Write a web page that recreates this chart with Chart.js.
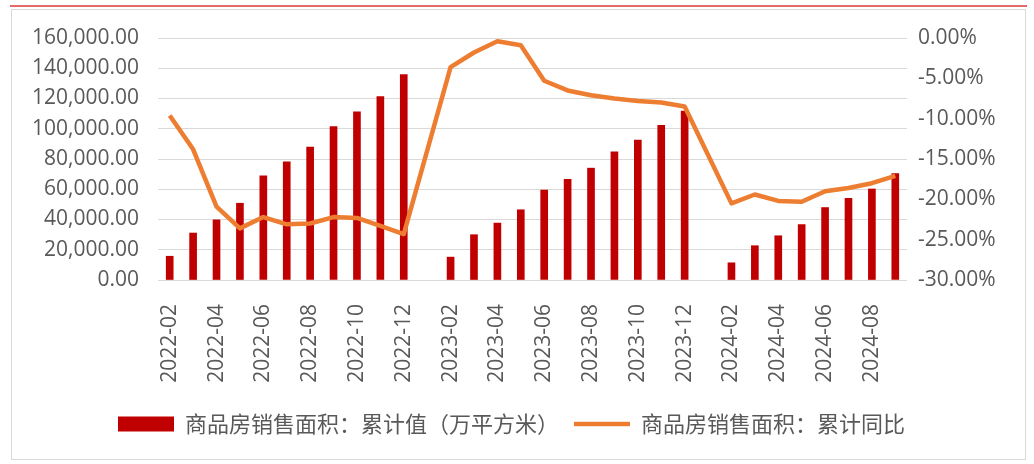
<!DOCTYPE html>
<html>
<head>
<meta charset="utf-8">
<script src="https://cdn.jsdelivr.net/npm/chart.js@4"></script>
<style>
	html, body { margin: 0; padding: 0; background: #ffffff; }
	body { width: 1034px; height: 464px; position: relative; overflow: hidden; }
	#topline { position: absolute; left: 10px; top: 5px; width: 1017px; height: 2px; background: #e46a6a; }
	#frame { position: absolute; left: 11px; top: 9px; width: 1013px; height: 449px; border: 1px solid #d9d9d9; }
	#salesChart { display: block; }
</style>
</head>
<body>
<div id="topline"></div>
<div id="frame">
	<canvas id="salesChart" width="1013" height="449"></canvas>
</div>
<script type="text/javascript">
	/*jshint esversion: 6 */
	var months = [
		"2022-02", "2022-03", "2022-04", "2022-05", "2022-06", "2022-07", "2022-08", "2022-09", "2022-10", "2022-11", "2022-12",
		"2023-01", "2023-02", "2023-03", "2023-04", "2023-05", "2023-06", "2023-07", "2023-08", "2023-09", "2023-10", "2023-11", "2023-12",
		"2024-01", "2024-02", "2024-03", "2024-04", "2024-05", "2024-06", "2024-07", "2024-08", "2024-09"
	];

	// cumulative sales area (10k m2), January has no release
	var salesArea = [
		15703, 31046, 39768, 50738, 68923, 78178, 87890, 101422, 111179, 121250, 135837,
		null, 15133, 29946, 37636, 46440, 59515, 66563, 73949, 84806, 92579, 102289, 111735,
		null, 11369, 22668, 29252, 36642, 47916, 54007, 60172, 70284
	];

	// cumulative year-on-year change (%)
	var salesGrowth = [
		-9.6, -13.8, -20.9, -23.6, -22.2, -23.1, -23.0, -22.2, -22.3, -23.3, -24.3,
		null, -3.6, -1.8, -0.4, -0.9, -5.3, -6.5, -7.1, -7.5, -7.8, -8.0, -8.5,
		null, -20.5, -19.4, -20.2, -20.3, -19.0, -18.6, -18.0, -17.1
	];

	var seriesNames = ["商品房销售面积：累计值（万平方米）", "商品房销售面积：累计同比"];

	var textColor = "#595959";
	var tickFont = { family: "'Open Sans', 'Noto Sans', sans-serif", size: 21 };

	var ctx = document.getElementById("salesChart").getContext("2d");
	var chart = new Chart(ctx, {
		type: "bar",
		data: {
			labels: months,
			datasets: [
				{
					type: "bar",
					label: seriesNames[0],
					data: salesArea,
					yAxisID: "y",
					backgroundColor: "#c00000",
					borderWidth: 0,
					barThickness: 7,
					order: 2
				},
				{
					type: "line",
					label: seriesNames[1],
					data: salesGrowth,
					yAxisID: "y1",
					borderColor: "#ed7d31",
					backgroundColor: "#ed7d31",
					borderWidth: 4.5,
					pointRadius: 0,
					tension: 0,
					spanGaps: true,
					borderJoinStyle: "round",
					order: 1
				}
			]
		},
		options: {
			responsive: false,
			animation: false,
			layout: { padding: { left: 0, right: 14, top: 28, bottom: 14 } },
			plugins: {
				tooltip: { enabled: false },
				legend: {
					position: "bottom",
					labels: {
						color: textColor,
						font: { family: "'Noto Sans CJK SC', sans-serif", size: 22 },
						usePointStyle: true,
						pointStyleWidth: 56,
						boxHeight: 15,
						padding: 15,
						generateLabels: function(c) {
							var items = Chart.defaults.plugins.legend.labels.generateLabels(c);
							items.forEach(function(item) {
								var ds = c.data.datasets[item.datasetIndex];
								if (ds.type === "line") {
									item.pointStyle = "line";
									item.strokeStyle = ds.borderColor;
									item.lineWidth = 4.5;
								} else {
									item.pointStyle = "rect";
									item.fillStyle = ds.backgroundColor;
									item.lineWidth = 0;
								}
							});
							return items.sort(function(a, b) { return a.datasetIndex - b.datasetIndex; });
						}
					}
				}
			},
			scales: {
				x: {
					offset: true,
					grid: { display: false },
					border: { display: false },
					afterFit: function(s) { s.height = 118; },
					ticks: {
						color: textColor,
						font: tickFont,
						autoSkip: false,
						maxRotation: 90,
						minRotation: 90,
						padding: 16,
						callback: function(val, i) {
							return i % 2 === 0 ? this.getLabelForValue(val) : "";
						}
					}
				},
				y: {
					position: "left",
					min: 0,
					max: 160000,
					afterFit: function(s) { s.width = 146; },
					// tick marks kept invisible, their length only spaces the labels
					grid: { color: "#d9d9d9", lineWidth: 1, drawTicks: true, tickLength: 19, tickColor: "rgba(0,0,0,0)" },
					border: { display: false },
					ticks: {
						stepSize: 20000,
						color: textColor,
						font: tickFont,
						padding: 0,
						callback: function(v) {
							return v.toLocaleString("en-US", { minimumFractionDigits: 2, maximumFractionDigits: 2 });
						}
					}
				},
				y1: {
					position: "right",
					min: -30,
					max: 0,
					afterFit: function(s) { s.width = 104; },
					grid: { drawOnChartArea: false, drawTicks: true, tickLength: 11, tickColor: "rgba(0,0,0,0)" },
					border: { display: false },
					ticks: {
						stepSize: 5,
						color: textColor,
						font: tickFont,
						padding: 0,
						callback: function(v) {
							return v.toFixed(2) + "%";
						}
					}
				}
			}
		}
	});
</script>
</body>
</html>
